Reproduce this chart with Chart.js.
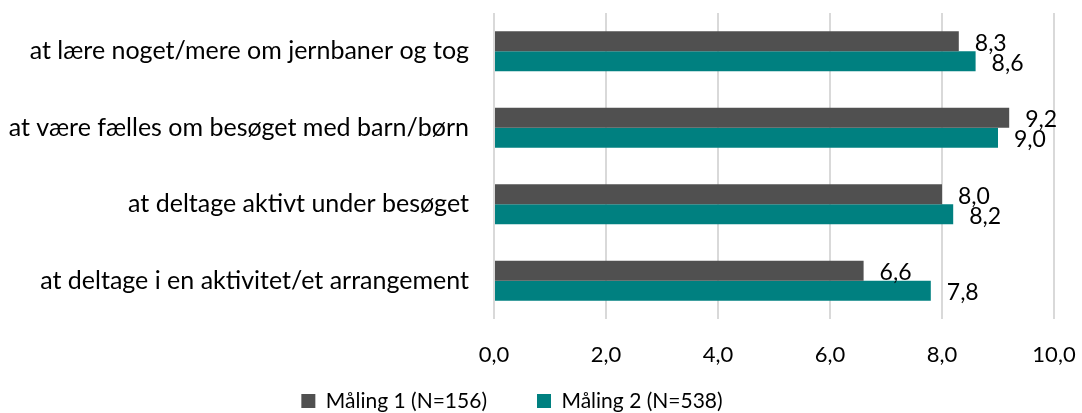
<!DOCTYPE html>
<html>
<head>
<meta charset="utf-8">
<script src="https://cdn.jsdelivr.net/npm/chart.js@4/dist/chart.umd.min.js"></script>
<style>
    html, body { margin: 0; padding: 0; background: #fff; }
    #wrap { width: 1082px; height: 413px; }
</style>
</head>
<body>
<div id="wrap"><canvas id="myChart"></canvas></div>
<script>
const categories = [
    'at lære noget/mere om jernbaner og tog',
    'at være fælles om besøget med barn/børn',
    'at deltage aktivt under besøget',
    'at deltage i en aktivitet/et arrangement'
];
const seriesNames = ['Måling 1 (N=156)', 'Måling 2 (N=538)'];
const maaling1 = [8.3, 9.2, 8.0, 6.6];
const maaling2 = [8.6, 9.0, 8.2, 7.8];
const xTicks = [0, 2, 4, 6, 8, 10];

const FONT = 'Lato';

function fmt(v) {
    return v.toFixed(1).replace('.', ',');
}

// value labels right of each bar
const barLabels = {
    id: 'barLabels',
    afterDatasetsDraw(chart) {
        const ctx = chart.ctx;
        ctx.save();
        ctx.font = '23px ' + FONT;
        ctx.fillStyle = '#000';
        ctx.textAlign = 'left';
        ctx.textBaseline = 'middle';
        chart.data.datasets.forEach((ds, i) => {
            chart.getDatasetMeta(i).data.forEach((bar, j) => {
                ctx.fillText(fmt(ds.data[j]), bar.x + 16, bar.y + 2);
            });
        });
        ctx.restore();
    }
};

// legend sits a bit left of centre, text centred near y=401
const legendShift = {
    id: 'legendShift',
    afterLayout(chart) {
        const lg = chart.legend;
        const pad = lg.options.labels.padding;
        const h = lg.bottom - lg.top;
        lg.left = 0;
        lg.right = 1024;
        lg.top = 401 - pad - 10.5;
        lg.bottom = lg.top + h;
    }
};

document.addEventListener('DOMContentLoaded', function () {
    const ctx = document.getElementById('myChart');
    new Chart(ctx, {
        type: 'bar',
        data: {
            labels: categories,
            datasets: [{
                label: seriesNames[0],
                data: maaling1,
                backgroundColor: '#505050',
                categoryPercentage: 0.52,
                barPercentage: 1
            },
                {
                    label: seriesNames[1],
                    data: maaling2,
                    backgroundColor: '#008080',
                    categoryPercentage: 0.52,
                    barPercentage: 1
                }]
        },
        plugins: [barLabels, legendShift],
        options: {
            indexAxis: 'y',
            responsive: true,
            maintainAspectRatio: false,
            animation: false,
            layout: {
                // legend box is tall because of its item padding, let it hang below the canvas
                padding: {top: 13, right: 28, bottom: -37, left: 0}
            },
            scales: {
                x: {
                    min: 0,
                    max: 10,
                    afterBuildTicks: (scale) => {
                        scale.ticks = xTicks.map(v => ({value: v}));
                    },
                    afterFit: (scale) => {
                        scale.height = 50;
                        scale.paddingLeft = 0;
                        scale.paddingRight = 0;
                    },
                    grid: {color: '#d9d9d9', lineWidth: 2, drawTicks: false},
                    border: {display: false},
                    ticks: {
                        color: '#000',
                        padding: 23,
                        font: {family: FONT, size: 22},
                        callback: (v) => fmt(v)
                    }
                },
                y: {
                    grid: {display: false, drawTicks: false},
                    border: {display: false},
                    afterFit: (scale) => {
                        scale.width = 494;
                        scale.paddingTop = 0;
                        scale.paddingBottom = 0;
                    },
                    ticks: {
                        color: '#000',
                        padding: 25,
                        font: {family: FONT, size: 25}
                    }
                }
            },
            plugins: {
                legend: {
                    position: 'bottom',
                    labels: {
                        color: '#000',
                        boxWidth: 14,
                        boxHeight: 14,
                        padding: 50,
                        font: {family: FONT, size: 21}
                    }
                },
                tooltip: {enabled: false}
            }
        }
    });
});
</script>
</body>
</html>
